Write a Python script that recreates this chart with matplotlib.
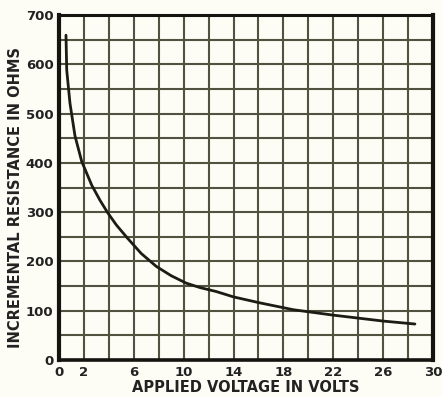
import matplotlib
matplotlib.use("Agg")
import matplotlib.pyplot as plt
import numpy as np

# curve
volts = [0.56, 0.62, 0.88, 1.28, 1.82, 2.62, 3.29, 3.9, 4.6, 5.5, 6.6, 7.8, 9.0, 10.2,
         11.3, 12.6, 14.0, 16.1, 18.8, 22.0, 26.0, 28.55]
ohms = [659, 588, 521, 455, 403, 355, 324, 299, 274, 247, 216, 190, 171, 156,
        147, 139, 128, 116, 102, 91, 79, 73]

x_ticks = [0, 2, 6, 10, 14, 18, 22, 26, 30]
y_ticks = [0, 100, 200, 300, 400, 500, 600, 700]

plt.rcParams['font.family'] = ['DejaVu Sans']

fig = plt.figure(figsize=(4.42, 3.97), dpi=100, facecolor='#fdfdf6')
ax = fig.add_axes([59 / 442, 37 / 397, 374 / 442, 345 / 397])
ax.set_facecolor('#fdfdf6')

grid_col = '#525240'
for gx in np.arange(2, 30, 2):
    ax.axvline(gx, color=grid_col, lw=1.5, zorder=1)
for gy in np.arange(50, 700, 50):
    ax.axhline(gy, color=grid_col, lw=1.5, zorder=1)

ax.plot(volts, ohms, color='#1c1c14', lw=2.0, zorder=3, solid_capstyle='round')

ax.set_xlim(0, 30)
ax.set_ylim(0, 700)
ax.set_xticks(x_ticks)
ax.set_yticks(y_ticks)
ax.set_xticklabels([str(t) for t in x_ticks], fontsize=9.5, fontweight='bold', color='#222')
ax.set_yticklabels([str(t) for t in y_ticks], fontsize=9.5, fontweight='bold', color='#222')
ax.tick_params(length=0, pad=4)

for side, w in [('left', 3.0), ('bottom', 2.6), ('right', 3.0), ('top', 2.2)]:
    ax.spines[side].set_linewidth(w)
    ax.spines[side].set_color('#141410')

ax.set_xlabel('APPLIED VOLTAGE IN VOLTS', fontsize=10.5, fontweight='semibold', color='#222', labelpad=1)
ax.set_ylabel('INCREMENTAL RESISTANCE IN OHMS', fontsize=10.5, fontweight='semibold', color='#222')
ax.yaxis.set_label_coords(-0.095, 0.47)

fig.savefig('out.png', dpi=100, facecolor=fig.get_facecolor())
